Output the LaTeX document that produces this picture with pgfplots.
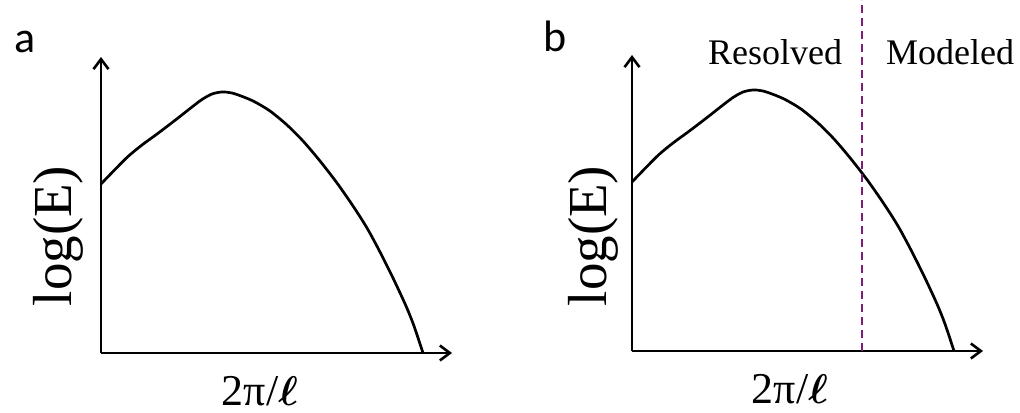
\documentclass[border=0pt]{standalone}
\usepackage{pgfplots}
\pgfplotsset{compat=1.18}
\usepackage{amsmath}
\usepackage{fontspec}
\setmainfont{Liberation Serif}
\newfontfamily\panelfont{Carlito}
\usetikzlibrary{arrows.meta}

% energy spectrum sketch (arbitrary units)
\pgfplotstableread{
x y
0 169
14 183.5
27 196.5
41 208
54 217.5
64 225
77 235
91 246
101 253.5
111 259
121 261
131 260
144 255.5
154 251
169 242
186 228
202 212
219 192
236 170
252 147
266 125
279 101
292 75
305 47
313 27
322 0
}\spectrum

\pgfplotsset{
  sketch/.style={
    scale only axis, width=175.5pt, height=148pt,
    xmin=0, xmax=351, ymin=0, ymax=296,
    axis lines=left, xtick=\empty, ytick=\empty,
    axis line style={line width=1.4pt, -{Straight Barb[length=5pt,width=7.5pt,line width=1.3pt]}},
    clip=false, anchor=south west,
  },
}

\begin{document}
\begin{tikzpicture}
% panel a
\begin{axis}[sketch, at={(50.5pt,29.5pt)}]
  \addplot[line width=1.35pt, smooth, tension=0.5] table {\spectrum};
  \node[rotate=90, font=\fontsize{27.5}{29}\selectfont] at (axis cs:-43,117) {log(E)};
  \node[anchor=base, inner sep=0pt, font=\fontsize{22}{24}\selectfont] at (axis cs:159,-52) {2π/$\boldsymbol{\ell}$};
  \node[anchor=base west, inner sep=0pt, font=\panelfont\fontsize{22}{24}\selectfont] at (axis cs:-87,300) {a};
\end{axis}
% panel b
\begin{axis}[sketch, at={(316pt,30.5pt)}]
  \addplot[line width=1.35pt, smooth, tension=0.5] table {\spectrum};
  \addplot[line width=1pt, color={rgb,255:red,122;green,30;blue,122}, dash pattern=on 4pt off 2.5pt] coordinates {(230,0) (230,351)};
  \node[rotate=90, font=\fontsize{27.5}{29}\selectfont] at (axis cs:-39,115) {log(E)};
  \node[anchor=base, inner sep=0pt, font=\fontsize{22}{24}\selectfont] at (axis cs:158,-52) {2π/$\boldsymbol{\ell}$};
  \node[anchor=base, font=\fontsize{18}{20}\selectfont] at (axis cs:143,286) {Resolved};
  \node[anchor=base, font=\fontsize{18}{20}\selectfont] at (axis cs:318,286) {Modeled};
  \node[anchor=base west, inner sep=0pt, font=\panelfont\fontsize{22}{24}\selectfont] at (axis cs:-89,299) {b};
\end{axis}
\pgfresetboundingbox
\path[use as bounding box] (0,0) rectangle (510pt,206pt);
\end{tikzpicture}
\end{document}
